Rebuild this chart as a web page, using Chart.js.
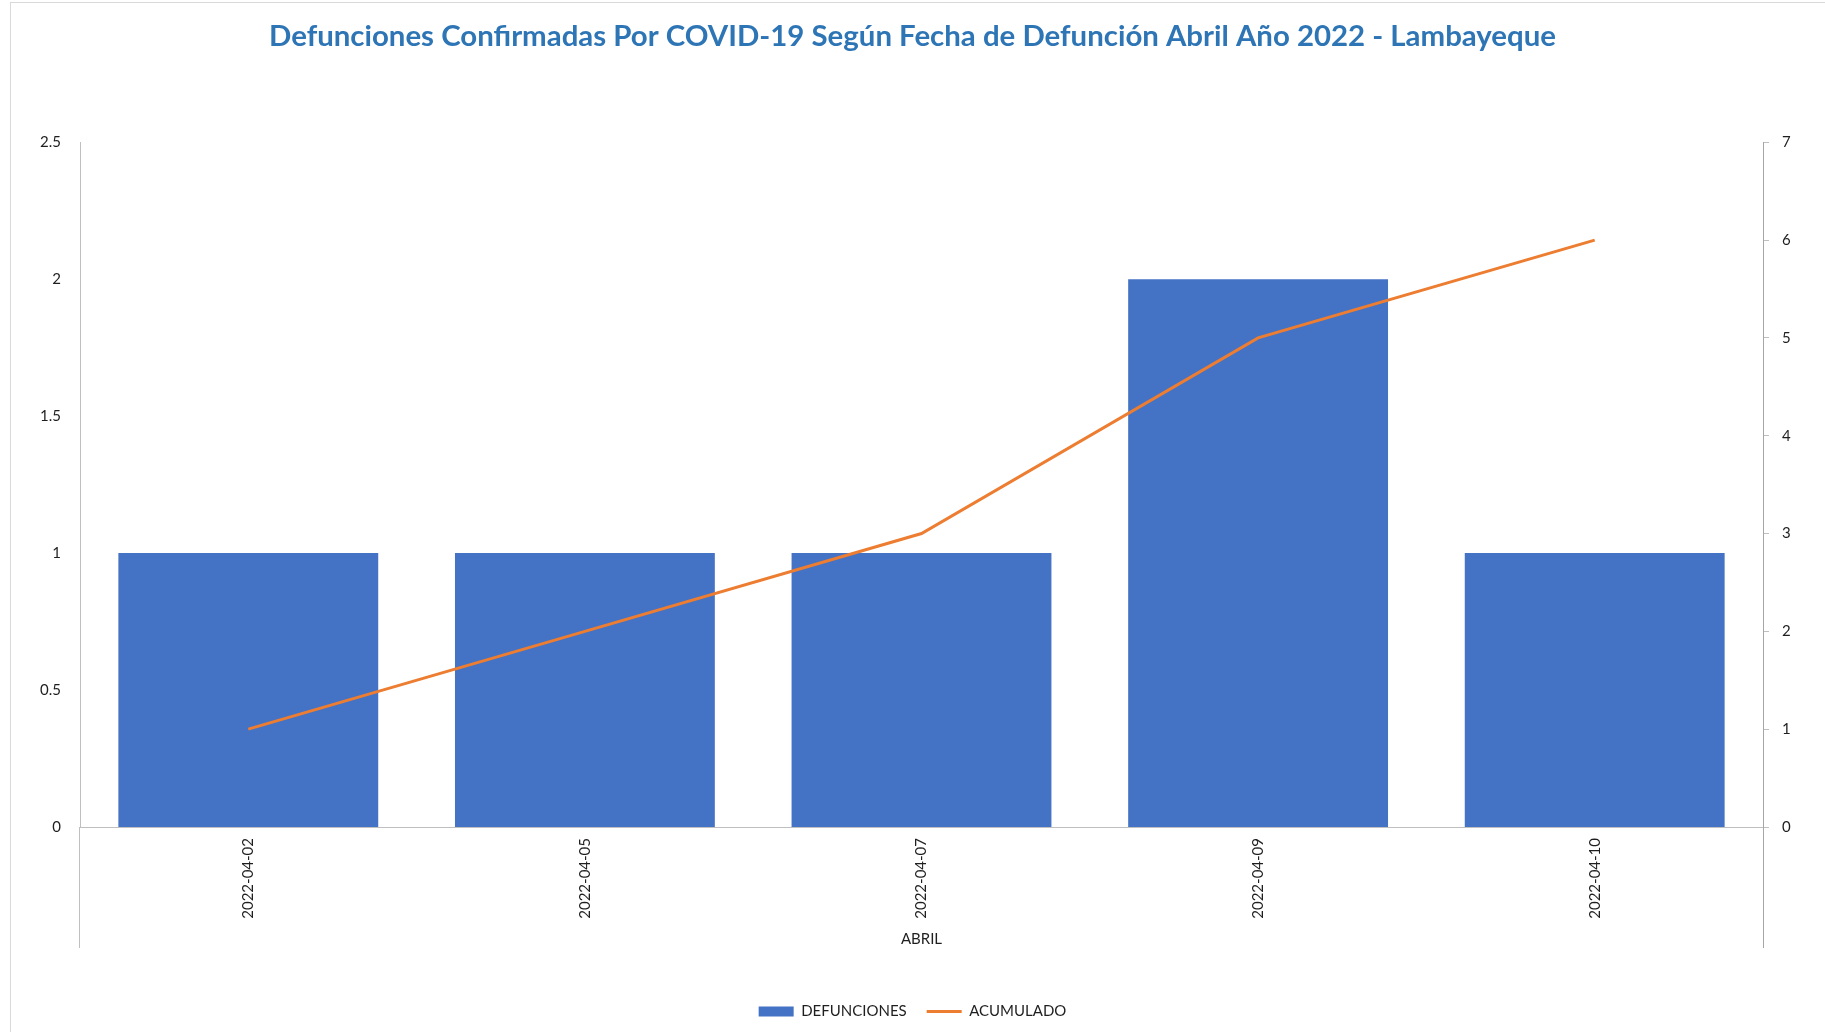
<!DOCTYPE html>
<html lang="es">
<head>
    <meta charset="UTF-8">
    <title>Defunciones COVID-19 Abril 2022 - Lambayeque</title>
    <script src="https://cdn.jsdelivr.net/npm/chart.js"></script>
    <style>
        body {
            margin: 0;
            overflow: hidden;
            background: #FFFFFF;
            font-family: 'Lato', sans-serif;
        }
        .frame {
            position: absolute;
            left: 10px;
            top: 2px;
            width: 2000px;
            height: 1200px;
            border: 1px solid #D9D9D9;
        }
        .chart-container {
            position: absolute;
            left: 0;
            top: 0;
            width: 1825px;
            height: 1032px;
        }
    </style>
</head>
<body>
    <div class="frame"></div>
    <div class="chart-container">
        <canvas id="dataChart"></canvas>
    </div>

    <script>
        const fechas = ['2022-04-02', '2022-04-05', '2022-04-07', '2022-04-09', '2022-04-10'];
        const defunciones = [1, 1, 1, 2, 1];
        const acumulado = [1, 2, 3, 5, 6];

        const tituloGrafico = 'Defunciones Confirmadas Por COVID-19 Según Fecha de Defunción Abril Año 2022 - Lambayeque';
        const tituloEjeX = 'ABRIL';

        const textColor = '#1F1F1F';

        // the two value axes continue down through the date label band
        const axisTails = {
            id: 'axisTails',
            afterDraw(chart) {
                const ctx = chart.ctx;
                const bottom = chart.chartArea.bottom;
                ctx.save();
                ctx.lineWidth = 1;
                ctx.strokeStyle = '#BFBFBF';
                ctx.beginPath();
                ctx.moveTo(chart.scales.y.right - 0.5, bottom);
                ctx.lineTo(chart.scales.y.right - 0.5, bottom + 121);
                ctx.stroke();
                ctx.strokeStyle = '#A6A6A6';
                ctx.beginPath();
                ctx.moveTo(chart.scales.y1.left + 0.5, bottom);
                ctx.lineTo(chart.scales.y1.left + 0.5, bottom + 121);
                ctx.stroke();
                ctx.restore();
            }
        };

        let chart;

        function initializeChart() {
            const ctx = document.getElementById('dataChart').getContext('2d');
            chart = new Chart(ctx, {
                type: 'bar',
                data: {
                    labels: fechas,
                    datasets: [{
                        label: 'DEFUNCIONES',
                        data: defunciones,
                        backgroundColor: '#4472C4',
                        borderWidth: 0,
                        yAxisID: 'y',
                        order: 1,
                        pointStyle: 'rect',
                        categoryPercentage: 1,
                        barPercentage: 0.772
                    }, {
                        type: 'line',
                        label: 'ACUMULADO',
                        data: acumulado,
                        borderColor: '#ED7D31',
                        backgroundColor: '#ED7D31',
                        borderWidth: 3,
                        pointRadius: 0,
                        pointHoverRadius: 0,
                        pointStyle: 'line',
                        tension: 0,
                        yAxisID: 'y1',
                        order: 0
                    }]
                },
                options: {
                    responsive: true,
                    maintainAspectRatio: false,
                    animation: false,
                    layout: {
                        padding: { top: 0, left: 0, right: 0, bottom: 3 }
                    },
                    scales: {
                        x: {
                            grid: { display: false, drawTicks: false },
                            border: { display: true, color: '#BFBFBF', width: 1 },
                            ticks: {
                                color: textColor,
                                font: { family: 'Lato', size: 15 },
                                minRotation: 90,
                                maxRotation: 90,
                                padding: 11
                            },
                            title: {
                                display: true,
                                text: tituloEjeX,
                                color: textColor,
                                font: { family: 'Lato', size: 15 },
                                padding: { top: 4, bottom: 36 }
                            },
                            afterFit(scale) { scale.height = 157; }
                        },
                        y: {
                            type: 'linear',
                            position: 'left',
                            min: 0,
                            max: 2.5,
                            grid: { display: false, drawTicks: false },
                            border: { display: true, color: '#BFBFBF', width: 1 },
                            ticks: {
                                stepSize: 0.5,
                                color: textColor,
                                font: { family: 'Lato', size: 15 },
                                padding: 19,
                                callback: value => String(Math.round(value * 10) / 10)
                            },
                            afterFit(scale) { scale.width = 80; }
                        },
                        y1: {
                            type: 'linear',
                            position: 'right',
                            min: 0,
                            max: 7,
                            grid: {
                                drawOnChartArea: false,
                                drawTicks: true,
                                tickLength: 6,
                                color: '#BFBFBF'
                            },
                            border: { display: true, color: '#A6A6A6', width: 1 },
                            ticks: {
                                stepSize: 1,
                                color: textColor,
                                font: { family: 'Lato', size: 15 },
                                padding: 13
                            },
                            afterFit(scale) { scale.width = 62; }
                        }
                    },
                    plugins: {
                        title: {
                            display: true,
                            text: tituloGrafico,
                            color: '#2E75B6',
                            font: { family: 'Lato', size: 29.4, weight: 'bold' },
                            padding: { top: 19, bottom: 88 }
                        },
                        legend: {
                            display: true,
                            position: 'bottom',
                            labels: {
                                usePointStyle: true,
                                pointStyleWidth: 35,
                                boxWidth: 35,
                                boxHeight: 10,
                                padding: 20,
                                color: textColor,
                                font: { family: 'Lato', size: 15 },
                                sort: (a, b) => a.datasetIndex - b.datasetIndex
                            }
                        },
                        tooltip: { enabled: false }
                    }
                },
                plugins: [axisTails]
            });
        }

        initializeChart();
    </script>
</body>
</html>
